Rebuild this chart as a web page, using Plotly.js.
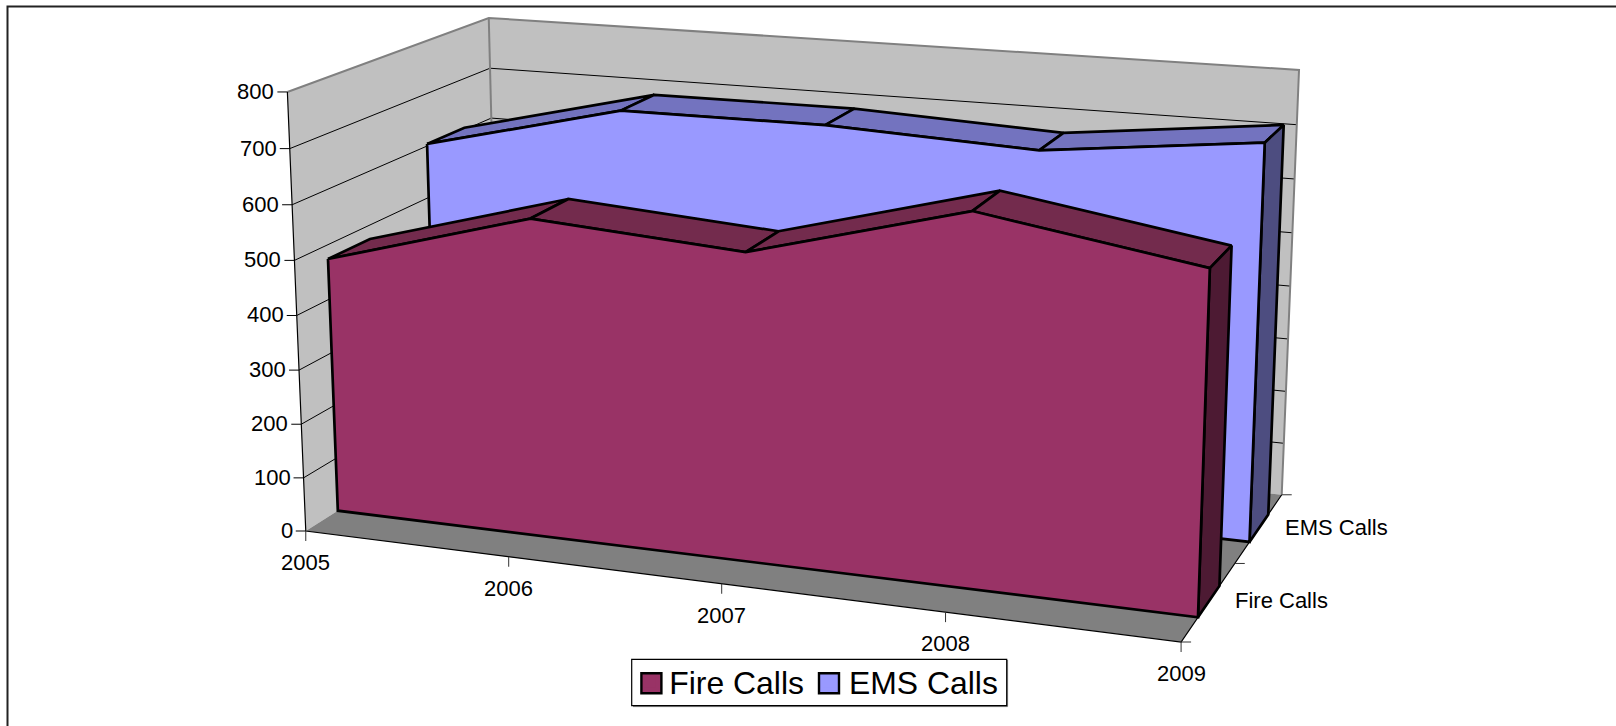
<!DOCTYPE html>
<html><head><meta charset="utf-8"><script src="https://cdn.plot.ly/plotly-3.0.1.min.js"></script>
<style>html,body{margin:0;padding:0;background:#fff}#c{width:1616px;height:726px}</style></head>
<body><div id="c"></div><script>
const years=[2005,2006,2007,2008,2009];
const fireCalls=[474,581,555,659,597];
const emsCalls=[604,696,697,680,723];
const seriesNames=['Fire Calls','EMS Calls'];
const valueTicks=[0,100,200,300,400,500,600,700,800];
const valueMax=800;

// Camera: a projective map from (u across years, d into depth, v up) to the picture, fitted on the box corners and axis ticks.
const cal=[[0,0,0,306,531],[0,0,1,287.5,92],[0,0,.5,296.5,315.4],[1,0,0,1181.7,642.3],[1,1,0,1281.7,495],[1,1,1,1299,70],[0,1,1,488.5,17.7],[0,1,.875,490.6,68.3],[0,1,.75,491,118.3],[0,.15,0,337.7,510.7],[1,.15,0,1197.7,617.3],[1,.35,0,1218.3,585],[1,.65,0,1250,541.7],[1,.85,0,1268.3,514.3],[1,.5,0,1235,564],[.25,0,0,509,556.8],[.5,0,0,721,583.7],[.75,0,0,946,612.3]];
function solve(){const n=11,M=[...Array(n)].map(()=>Array(n+1).fill(0));const add=(r,t)=>{for(let i=0;i<n;i++){for(let j=0;j<n;j++)M[i][j]+=r[i]*r[j];M[i][n]+=r[i]*t}};
cal.forEach(([u,d,v,x,y])=>{add([u,d,v,1,0,0,0,0,-x*u,-x*d,-x*v],x);add([0,0,0,0,u,d,v,1,-y*u,-y*d,-y*v],y)});
for(let i=0;i<n;i++){let p=i;for(let k=i;k<n;k++)if(Math.abs(M[k][i])>Math.abs(M[p][i]))p=k;[M[i],M[p]]=[M[p],M[i]];for(let k=0;k<n;k++)if(k!=i){const f=M[k][i]/M[i][i];for(let j=i;j<=n;j++)M[k][j]-=f*M[i][j]}}
return M.map((r,i)=>r[n]/r[i])}
const h=solve();
const P=(u,d,val)=>{const v=val/valueMax,w=h[8]*u+h[9]*d+h[10]*v+1;return[(h[0]*u+h[1]*d+h[2]*v+h[3])/w,(h[4]*u+h[5]*d+h[6]*v+h[7])/w]};
const uOf=i=>i/(years.length-1);

const traces=[];
const FONT='"Liberation Sans", Arial, sans-serif';
const FIRE={front:'#993366',top:'#732B4D',side:'#4D1A33'}, EMS={front:'#9999FF',top:'#7373BF',side:'#4D4D80'};
// legend entries
seriesNames.forEach((n,i)=>traces.push({x:[-50],y:[-50],name:n,type:'scatter',mode:'markers',showlegend:true,
  marker:{symbol:'square',size:12,color:i?EMS.front:FIRE.front,line:{width:0}},hoverinfo:'skip'}));
function poly(pts,fill,lc,lw){const q=pts.concat([pts[0]]);traces.push({x:q.map(p=>p[0]),y:q.map(p=>p[1]),type:'scatter',mode:'lines',showlegend:false,hoverinfo:'skip',
  fill:'toself',fillcolor:fill,line:{color:lc||fill,width:lw===undefined?1:lw,simplify:false}})}
function line(pts,c,w){traces.push({x:pts.map(p=>p[0]),y:pts.map(p=>p[1]),type:'scatter',mode:'lines',showlegend:false,hoverinfo:'skip',line:{color:c,width:w,simplify:false}})}

// walls and floor
poly([P(0,0,0),P(0,1,0),P(0,1,valueMax),P(0,0,valueMax)],'#C0C0C0','#C0C0C0',0);
poly([P(0,1,0),P(1,1,0),P(1,1,valueMax),P(0,1,valueMax)],'#C0C0C0','#C0C0C0',0);
poly([P(0,0,0),P(1,0,0),P(1,1,0),P(0,1,0)],'#808080','#808080',0);
// gridlines
valueTicks.slice(1,-1).forEach(v=>line([P(0,0,v),P(0,1,v),P(1,1,v)],'#000',1));
// wall edges
line([P(0,0,valueMax),P(0,1,valueMax),P(1,1,valueMax),P(1,1,0)],'#808080',2);
line([P(0,1,valueMax),P(0,1,0)],'#808080',2);
// axis lines
line([P(0,0,valueMax),P(0,0,0),P(1,0,0),P(1,1,0)],'#000',1.2);

// ticks and labels
const ann=[];
function label(x,y,t,xa){ann.push({x,y,text:t,showarrow:false,xref:'x',yref:'y',xanchor:xa,yanchor:'middle',borderpad:0,font:{family:FONT,size:22,color:'#000'}})}
valueTicks.forEach(v=>{const p=P(0,0,v);line([p,[p[0]-10,p[1]]],'#000',1);label(p[0]-12,p[1]-0.5,String(v),'right')});
years.forEach((y,i)=>{const p=P(uOf(i),0,0);line([p,[p[0],p[1]+10]],'#333',1);label(p[0],p[1]+31.5,String(y),'center')});
[0,.5,1].forEach(d=>{const p=P(1,d,0);line([p,[p[0]+10,p[1]]],'#333',1)});
seriesNames.forEach((n,i)=>{const p=P(1,.25+.5*i,0);label(p[0]+25,p[1]-1,n,'left')});

// series: back one first
const EDGE=2.7;
function area(vals,d0,d1,c){
  const n=vals.length;
  for(let i=0;i<n-1;i++){const a=uOf(i),b=uOf(i+1);poly([P(a,d0,vals[i]),P(b,d0,vals[i+1]),P(b,d1,vals[i+1]),P(a,d1,vals[i])],c.top,'#000',EDGE)}
  poly([P(1,d0,vals[n-1]),P(1,d1,vals[n-1]),P(1,d1,0),P(1,d0,0)],c.side,'#000',EDGE);
  const f=vals.map((v,i)=>P(uOf(i),d0,v));f.push(P(1,d0,0),P(0,d0,0));
  poly(f,c.front,'#000',EDGE);
}
area(emsCalls,.65,.85,EMS);
area(fireCalls,.15,.35,FIRE);

const swatch=(x0,c)=>({type:'rect',xref:'x',yref:'y',x0,x1:x0+20,y0:673.2,y1:693.2,fillcolor:c,line:{color:'#000',width:2.4},layer:'above'});
const layout={width:1616,height:726,margin:{l:0,r:0,t:0,b:0},paper_bgcolor:'#fff',plot_bgcolor:'#fff',
  xaxis:{range:[0,1616],visible:false,fixedrange:true},yaxis:{range:[726,0],visible:false,fixedrange:true},
  showlegend:true,
  legend:{orientation:'h',x:629.3/1616,y:1-654/726,xanchor:'left',yanchor:'top',bgcolor:'rgba(0,0,0,0)',borderwidth:0,
    font:{family:FONT,size:31.9,color:'#000'},itemwidth:30,itemclick:false,traceorder:'normal',tracegroupgap:0},
  annotations:ann,
  shapes:[
    {type:'path',path:'M7.5,740 L7.5,6.5 L1630,6.5',line:{color:'#222',width:2},layer:'above'},
    {type:'path',path:'M633,706.6 L1007.6,706.6 L1007.6,660',line:{color:'#808080',width:1},layer:'above'},
    {type:'rect',x0:631.7,x1:1006.7,y0:659.3,y1:705.7,fillcolor:'#fff',line:{color:'#000',width:1.2},layer:'above'},
    swatch(641.4,FIRE.front),swatch(819,EMS.front)]};
Plotly.newPlot('c',traces,layout,{staticPlot:true});
</script></body></html>
